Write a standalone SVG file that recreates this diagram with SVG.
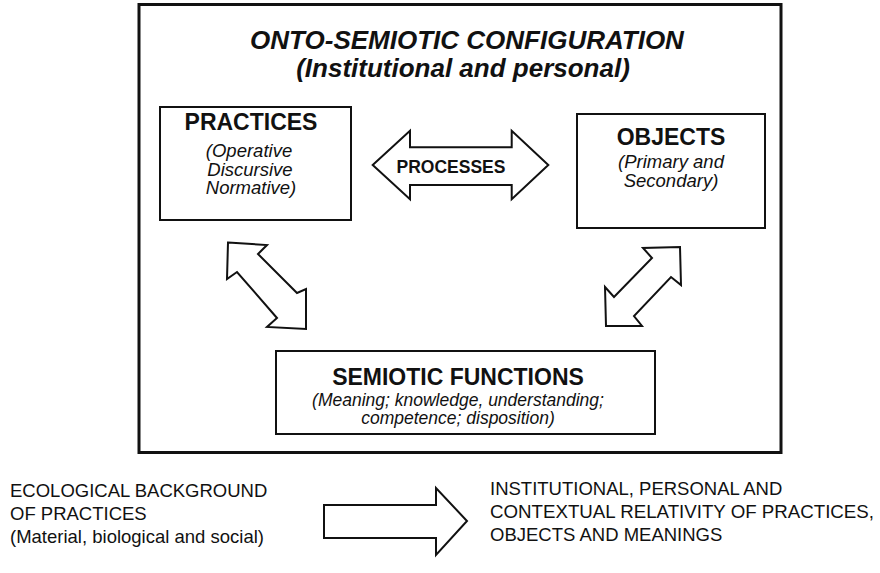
<svg xmlns="http://www.w3.org/2000/svg" width="880" height="573" viewBox="0 0 880 573">
<style>
text{font-family:"Liberation Sans",Arial,sans-serif;fill:#111}
.t{font-size:26px;font-weight:bold;font-style:italic;text-anchor:middle}
.h{font-size:23px;font-weight:bold;text-anchor:middle}
.s{font-size:18.5px;font-style:italic;text-anchor:middle}
.m{font-size:17.5px;font-style:italic;text-anchor:middle}
.p{font-size:17.5px;font-weight:bold;text-anchor:middle}
.b{font-size:18.5px}
.box{fill:#fff;stroke:#111;stroke-width:2}
.arr{fill:#fff;stroke:#111;stroke-width:2;stroke-linejoin:miter}
</style>
<rect width="880" height="573" fill="#fff"/>
<g id="frame"><rect x="139" y="4.5" width="642" height="448" fill="none" stroke="#111" stroke-width="3"/></g>
<g id="title">
<text class="t" x="467" y="48.5">ONTO-SEMIOTIC CONFIGURATION</text>
<text class="t" x="463" y="77">(Institutional and personal)</text>
</g>
<g id="practices">
<rect class="box" x="160" y="107" width="191" height="113"/>
<text class="h" x="251" y="130">PRACTICES</text>
<text class="s" x="249" y="157">(Operative</text>
<text class="s" x="250" y="175.5">Discursive</text>
<text class="s" x="251" y="194">Normative)</text>
</g>
<g id="objects">
<rect class="box" x="577" y="114" width="188" height="114"/>
<text class="h" x="671" y="145">OBJECTS</text>
<text class="s" x="671" y="168">(Primary and</text>
<text class="s" x="671" y="187">Secondary)</text>
</g>
<g id="semiotic">
<rect class="box" x="276" y="351" width="379" height="83"/>
<text class="h" x="458" y="385">SEMIOTIC FUNCTIONS</text>
<text class="m" x="458" y="406">(Meaning; knowledge, understanding;</text>
<text class="m" x="458" y="424">competence; disposition)</text>
</g>
<g id="ecological">
<text class="b" x="10" y="497">ECOLOGICAL BACKGROUND</text>
<text class="b" x="10" y="520">OF PRACTICES</text>
<text class="b" x="10" y="543">(Material, biological and social)</text>
</g>
<g id="relativity">
<text class="b" x="490" y="495">INSTITUTIONAL, PERSONAL AND</text>
<text class="b" x="490" y="518" textLength="384" lengthAdjust="spacingAndGlyphs">CONTEXTUAL RELATIVITY OF PRACTICES,</text>
<text class="b" x="490" y="541">OBJECTS AND MEANINGS</text>
</g>
<g id="connectors">
<path class="arr" d="M372.7,165 L410,130.7 L410,147.3 L511.7,147.3 L511.7,130.7 L548.3,165 L511.7,199.3 L511.7,185 L410,185 L410,199.3 Z"/>
<text class="p" x="451" y="173.3">PROCESSES</text>
<path class="arr" d="M228,242.5 L267,245 L258,254 L297,293 L306,289 L306,329 L267,327 L277,318 L237,272 L227,279 Z"/>
<path class="arr" d="M680,247 L681,285 L671,277 L634,316 L642,326 L606,326 L605,287 L614,297 L652,258 L643,248 Z"/>
<path class="arr" d="M324,505 L436,505 L436,488 L467,521 L436,555 L436,538 L324,538 Z"/>
</g>
</svg>
